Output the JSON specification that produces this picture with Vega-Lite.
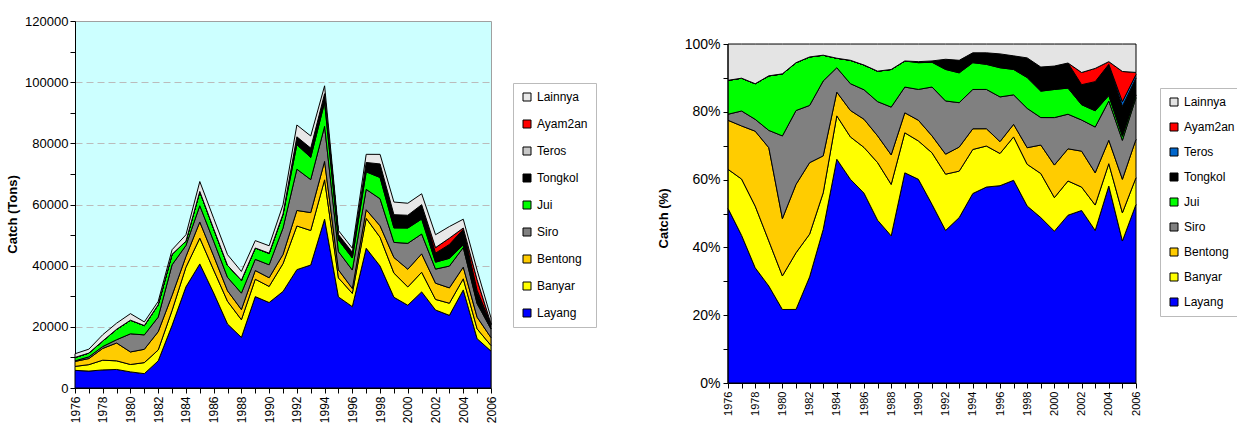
{
"$schema": "https://vega.github.io/schema/vega-lite/v6.json",
"padding": {"left": 6, "top": 14, "right": 0, "bottom": 0},
"background": "white",
"config": {"font": "Liberation Sans", "axis": {"domainColor": "black", "tickColor": "black", "labelColor": "black", "titleColor": "black", "grid": false}},
"datasets": {"catch": [
{"year":1976,"species":"Layang","tons":5770},{"year":1976,"species":"Banyar","tons":1290},{"year":1976,"species":"Bentong","tons":1620},{"year":1976,"species":"Siro","tons":200},{"year":1976,"species":"Jui","tons":1120},{"year":1976,"species":"Tongkol","tons":0},{"year":1976,"species":"Teros","tons":0},{"year":1976,"species":"Ayam2an","tons":0},{"year":1976,"species":"Lainnya","tons":1200},
{"year":1977,"species":"Layang","tons":5530},{"year":1977,"species":"Banyar","tons":2110},{"year":1977,"species":"Bentong","tons":1990},{"year":1977,"species":"Siro","tons":560},{"year":1977,"species":"Jui","tons":1230},{"year":1977,"species":"Tongkol","tons":0},{"year":1977,"species":"Teros","tons":0},{"year":1977,"species":"Ayam2an","tons":0},{"year":1977,"species":"Lainnya","tons":1280},
{"year":1978,"species":"Layang","tons":5920},{"year":1978,"species":"Banyar","tons":3170},{"year":1978,"species":"Bentong","tons":3850},{"year":1978,"species":"Siro","tons":610},{"year":1978,"species":"Jui","tons":1830},{"year":1978,"species":"Tongkol","tons":0},{"year":1978,"species":"Teros","tons":0},{"year":1978,"species":"Ayam2an","tons":0},{"year":1978,"species":"Lainnya","tons":2040},
{"year":1979,"species":"Layang","tons":6060},{"year":1979,"species":"Banyar","tons":2820},{"year":1979,"species":"Bentong","tons":5830},{"year":1979,"species":"Siro","tons":1080},{"year":1979,"species":"Jui","tons":3410},{"year":1979,"species":"Tongkol","tons":0},{"year":1979,"species":"Teros","tons":0},{"year":1979,"species":"Ayam2an","tons":0},{"year":1979,"species":"Lainnya","tons":1990},
{"year":1980,"species":"Layang","tons":5270},{"year":1980,"species":"Banyar","tons":2410},{"year":1980,"species":"Bentong","tons":4110},{"year":1980,"species":"Siro","tons":5930},{"year":1980,"species":"Jui","tons":4450},{"year":1980,"species":"Tongkol","tons":0},{"year":1980,"species":"Teros","tons":0},{"year":1980,"species":"Ayam2an","tons":0},{"year":1980,"species":"Lainnya","tons":2140},
{"year":1981,"species":"Layang","tons":4690},{"year":1981,"species":"Banyar","tons":3610},{"year":1981,"species":"Bentong","tons":4360},{"year":1981,"species":"Siro","tons":4710},{"year":1981,"species":"Jui","tons":3050},{"year":1981,"species":"Tongkol","tons":0},{"year":1981,"species":"Teros","tons":0},{"year":1981,"species":"Ayam2an","tons":0},{"year":1981,"species":"Lainnya","tons":1190},
{"year":1982,"species":"Layang","tons":8860},{"year":1982,"species":"Banyar","tons":3570},{"year":1982,"species":"Bentong","tons":5970},{"year":1982,"species":"Siro","tons":4780},{"year":1982,"species":"Jui","tons":4050},{"year":1982,"species":"Tongkol","tons":0},{"year":1982,"species":"Teros","tons":0},{"year":1982,"species":"Ayam2an","tons":0},{"year":1982,"species":"Lainnya","tons":1080},
{"year":1983,"species":"Layang","tons":20480},{"year":1983,"species":"Banyar","tons":4880},{"year":1983,"species":"Bentong","tons":4930},{"year":1983,"species":"Siro","tons":9990},{"year":1983,"species":"Jui","tons":3440},{"year":1983,"species":"Tongkol","tons":0},{"year":1983,"species":"Teros","tons":0},{"year":1983,"species":"Ayam2an","tons":0},{"year":1983,"species":"Lainnya","tons":1490},
{"year":1984,"species":"Layang","tons":33070},{"year":1984,"species":"Banyar","tons":6410},{"year":1984,"species":"Bentong","tons":3510},{"year":1984,"species":"Siro","tons":3610},{"year":1984,"species":"Jui","tons":1400},{"year":1984,"species":"Tongkol","tons":0},{"year":1984,"species":"Teros","tons":0},{"year":1984,"species":"Ayam2an","tons":0},{"year":1984,"species":"Lainnya","tons":2100},
{"year":1985,"species":"Layang","tons":40570},{"year":1985,"species":"Banyar","tons":8440},{"year":1985,"species":"Bentong","tons":5270},{"year":1985,"species":"Siro","tons":5330},{"year":1985,"species":"Jui","tons":4660},{"year":1985,"species":"Tongkol","tons":0},{"year":1985,"species":"Teros","tons":0},{"year":1985,"species":"Ayam2an","tons":0},{"year":1985,"species":"Lainnya","tons":3240},
{"year":1986,"species":"Layang","tons":31080},{"year":1986,"species":"Banyar","tons":7490},{"year":1986,"species":"Bentong","tons":4610},{"year":1986,"species":"Siro","tons":4830},{"year":1986,"species":"Jui","tons":4050},{"year":1986,"species":"Tongkol","tons":0},{"year":1986,"species":"Teros","tons":0},{"year":1986,"species":"Ayam2an","tons":0},{"year":1986,"species":"Lainnya","tons":3440},
{"year":1987,"species":"Layang","tons":20930},{"year":1987,"species":"Banyar","tons":7410},{"year":1987,"species":"Bentong","tons":3440},{"year":1987,"species":"Siro","tons":4400},{"year":1987,"species":"Jui","tons":3920},{"year":1987,"species":"Tongkol","tons":0},{"year":1987,"species":"Teros","tons":0},{"year":1987,"species":"Ayam2an","tons":0},{"year":1987,"species":"Lainnya","tons":3490},
{"year":1988,"species":"Layang","tons":16540},{"year":1988,"species":"Banyar","tons":5790},{"year":1988,"species":"Bentong","tons":3320},{"year":1988,"species":"Siro","tons":5370},{"year":1988,"species":"Jui","tons":4230},{"year":1988,"species":"Tongkol","tons":0},{"year":1988,"species":"Teros","tons":0},{"year":1988,"species":"Ayam2an","tons":0},{"year":1988,"species":"Lainnya","tons":2860},
{"year":1989,"species":"Layang","tons":29880},{"year":1989,"species":"Banyar","tons":5690},{"year":1989,"species":"Bentong","tons":2840},{"year":1989,"species":"Siro","tons":3660},{"year":1989,"species":"Jui","tons":3710},{"year":1989,"species":"Tongkol","tons":0},{"year":1989,"species":"Teros","tons":0},{"year":1989,"species":"Ayam2an","tons":0},{"year":1989,"species":"Lainnya","tons":2410},
{"year":1990,"species":"Layang","tons":27950},{"year":1990,"species":"Banyar","tons":5260},{"year":1990,"species":"Bentong","tons":2840},{"year":1990,"species":"Siro","tons":4230},{"year":1990,"species":"Jui","tons":3670},{"year":1990,"species":"Tongkol","tons":140},{"year":1990,"species":"Teros","tons":0},{"year":1990,"species":"Ayam2an","tons":0},{"year":1990,"species":"Lainnya","tons":2420},
{"year":1991,"species":"Layang","tons":31570},{"year":1991,"species":"Banyar","tons":9100},{"year":1991,"species":"Bentong","tons":3000},{"year":1991,"species":"Siro","tons":8630},{"year":1991,"species":"Jui","tons":4370},{"year":1991,"species":"Tongkol","tons":240},{"year":1991,"species":"Teros","tons":0},{"year":1991,"species":"Ayam2an","tons":0},{"year":1991,"species":"Lainnya","tons":2990},
{"year":1992,"species":"Layang","tons":38700},{"year":1992,"species":"Banyar","tons":14280},{"year":1992,"species":"Bentong","tons":5070},{"year":1992,"species":"Siro","tons":13500},{"year":1992,"species":"Jui","tons":8000},{"year":1992,"species":"Tongkol","tons":2580},{"year":1992,"species":"Teros","tons":0},{"year":1992,"species":"Ayam2an","tons":0},{"year":1992,"species":"Lainnya","tons":3870},
{"year":1993,"species":"Layang","tons":40210},{"year":1993,"species":"Banyar","tons":11290},{"year":1993,"species":"Bentong","tons":5850},{"year":1993,"species":"Siro","tons":10790},{"year":1993,"species":"Jui","tons":7250},{"year":1993,"species":"Tongkol","tons":3050},{"year":1993,"species":"Teros","tons":0},{"year":1993,"species":"Ayam2an","tons":0},{"year":1993,"species":"Lainnya","tons":3960},
{"year":1994,"species":"Layang","tons":55230},{"year":1994,"species":"Banyar","tons":12840},{"year":1994,"species":"Bentong","tons":6030},{"year":1994,"species":"Siro","tons":11460},{"year":1994,"species":"Jui","tons":7810},{"year":1994,"species":"Tongkol","tons":2870},{"year":1994,"species":"Teros","tons":0},{"year":1994,"species":"Ayam2an","tons":0},{"year":1994,"species":"Lainnya","tons":2570},
{"year":1995,"species":"Layang","tons":29770},{"year":1995,"species":"Banyar","tons":6230},{"year":1995,"species":"Bentong","tons":2630},{"year":1995,"species":"Siro","tons":5970},{"year":1995,"species":"Jui","tons":3810},{"year":1995,"species":"Tongkol","tons":1750},{"year":1995,"species":"Teros","tons":0},{"year":1995,"species":"Ayam2an","tons":0},{"year":1995,"species":"Lainnya","tons":1340},
{"year":1996,"species":"Layang","tons":26600},{"year":1996,"species":"Banyar","tons":4340},{"year":1996,"species":"Bentong","tons":1600},{"year":1996,"species":"Siro","tons":6030},{"year":1996,"species":"Jui","tons":3930},{"year":1996,"species":"Tongkol","tons":1870},{"year":1996,"species":"Teros","tons":0},{"year":1996,"species":"Ayam2an","tons":0},{"year":1996,"species":"Lainnya","tons":1330},
{"year":1997,"species":"Layang","tons":45690},{"year":1997,"species":"Banyar","tons":9780},{"year":1997,"species":"Bentong","tons":2830},{"year":1997,"species":"Siro","tons":6650},{"year":1997,"species":"Jui","tons":5730},{"year":1997,"species":"Tongkol","tons":3060},{"year":1997,"species":"Teros","tons":0},{"year":1997,"species":"Ayam2an","tons":0},{"year":1997,"species":"Lainnya","tons":2670},
{"year":1998,"species":"Layang","tons":39880},{"year":1998,"species":"Banyar","tons":9400},{"year":1998,"species":"Bentong","tons":3740},{"year":1998,"species":"Siro","tons":8860},{"year":1998,"species":"Jui","tons":6950},{"year":1998,"species":"Tongkol","tons":4430},{"year":1998,"species":"Teros","tons":0},{"year":1998,"species":"Ayam2an","tons":0},{"year":1998,"species":"Lainnya","tons":3130},
{"year":1999,"species":"Layang","tons":29670},{"year":1999,"species":"Banyar","tons":7900},{"year":1999,"species":"Bentong","tons":5110},{"year":1999,"species":"Siro","tons":4930},{"year":1999,"species":"Jui","tons":4740},{"year":1999,"species":"Tongkol","tons":4320},{"year":1999,"species":"Teros","tons":0},{"year":1999,"species":"Ayam2an","tons":0},{"year":1999,"species":"Lainnya","tons":4130},
{"year":2000,"species":"Layang","tons":27060},{"year":2000,"species":"Banyar","tons":5980},{"year":2000,"species":"Bentong","tons":5800},{"year":2000,"species":"Siro","tons":8460},{"year":2000,"species":"Jui","tons":5010},{"year":2000,"species":"Tongkol","tons":4170},{"year":2000,"species":"Teros","tons":0},{"year":2000,"species":"Ayam2an","tons":0},{"year":2000,"species":"Lainnya","tons":3930},
{"year":2001,"species":"Layang","tons":31430},{"year":2001,"species":"Banyar","tons":6410},{"year":2001,"species":"Bentong","tons":6030},{"year":2001,"species":"Siro","tons":6480},{"year":2001,"species":"Jui","tons":4890},{"year":2001,"species":"Tongkol","tons":4700},{"year":2001,"species":"Teros","tons":0},{"year":2001,"species":"Ayam2an","tons":0},{"year":2001,"species":"Lainnya","tons":3560},
{"year":2002,"species":"Layang","tons":25500},{"year":2002,"species":"Banyar","tons":3460},{"year":2002,"species":"Bentong","tons":5310},{"year":2002,"species":"Siro","tons":4610},{"year":2002,"species":"Jui","tons":2260},{"year":2002,"species":"Tongkol","tons":2960},{"year":2002,"species":"Teros","tons":0},{"year":2002,"species":"Ayam2an","tons":1800},{"year":2002,"species":"Lainnya","tons":4210},
{"year":2003,"species":"Layang","tons":23760},{"year":2003,"species":"Banyar","tons":3960},{"year":2003,"species":"Bentong","tons":5020},{"year":2003,"species":"Siro","tons":7130},{"year":2003,"species":"Jui","tons":2530},{"year":2003,"species":"Tongkol","tons":4540},{"year":2003,"species":"Teros","tons":0},{"year":2003,"species":"Ayam2an","tons":2060},{"year":2003,"species":"Lainnya","tons":3800},
{"year":2004,"species":"Layang","tons":32070},{"year":2004,"species":"Banyar","tons":3640},{"year":2004,"species":"Bentong","tons":3810},{"year":2004,"species":"Siro","tons":6400},{"year":2004,"species":"Jui","tons":880},{"year":2004,"species":"Tongkol","tons":5080},{"year":2004,"species":"Teros","tons":0},{"year":2004,"species":"Ayam2an","tons":440},{"year":2004,"species":"Lainnya","tons":2870},
{"year":2005,"species":"Layang","tons":16130},{"year":2005,"species":"Banyar","tons":3200},{"year":2005,"species":"Bentong","tons":3810},{"year":2005,"species":"Siro","tons":4430},{"year":2005,"species":"Jui","tons":460},{"year":2005,"species":"Tongkol","tons":3390},{"year":2005,"species":"Teros","tons":540},{"year":2005,"species":"Ayam2an","tons":3430},{"year":2005,"species":"Lainnya","tons":3120},
{"year":2006,"species":"Layang","tons":12070},{"year":2006,"species":"Banyar","tons":1810},{"year":2006,"species":"Bentong","tons":2590},{"year":2006,"species":"Siro","tons":2820},{"year":2006,"species":"Jui","tons":180},{"year":2006,"species":"Tongkol","tons":1150},{"year":2006,"species":"Teros","tons":230},{"year":2006,"species":"Ayam2an","tons":140},{"year":2006,"species":"Lainnya","tons":1920}
],
"speciesOrder": [{"species":"Layang","rank":1},{"species":"Banyar","rank":2},{"species":"Bentong","rank":3},{"species":"Siro","rank":4},{"species":"Jui","rank":5},{"species":"Tongkol","rank":6},{"species":"Teros","rank":7},{"species":"Ayam2an","rank":8},{"species":"Lainnya","rank":9}]
},
"data": {"name": "catch"},
"transform": [{"lookup": "species", "from": {"data": {"name": "speciesOrder"}, "key": "species", "fields": ["rank"]}}],
"spacing": 60,
"resolve": {"scale": {"color": "independent"}, "legend": {"color": "independent"}},
"hconcat": [
{
"width": 416, "height": 367,
"view": {"fill": "#CCFFFF", "stroke": "#A0A0A0"},
"mark": {"type": "area", "stroke": "black", "strokeWidth": 1, "interpolate": "linear", "opacity": 1},
"encoding": {
"x": {"field": "year", "type": "quantitative", "scale": {"domain": [1976, 2006], "nice": false, "zero": false},
"axis": {"title": null, "values": [1976,1977,1978,1979,1980,1981,1982,1983,1984,1985,1986,1987,1988,1989,1990,1991,1992,1993,1994,1995,1996,1997,1998,1999,2000,2001,2002,2003,2004,2005,2006], "format": "d", "labelExpr": "datum.value % 2 == 0 ? datum.label : ''", "labelAngle": -90, "labelFontSize": 12, "tickSize": 5, "labelPadding": 3, "labelOverlap": false, "labelBound": false, "labelFlush": false}},
"y": {"field": "tons", "type": "quantitative", "stack": "zero", "scale": {"domain": [0, 120000], "nice": false},
"axis": {"title": "Catch (Tons)", "titleFontSize": 13, "titleFontWeight": "bold", "titlePadding": 5, "titleY": 193, "values": [0,10000,20000,30000,40000,50000,60000,70000,80000,90000,100000,110000,120000], "format": "d", "labelExpr": "datum.value % 20000 == 0 ? datum.label : ''", "labelFontSize": 13, "tickSize": 5, "labelPadding": 2, "labelOverlap": false, "labelFlush": false, "grid": true, "gridColor": "#BBBBBB", "gridDash": [7, 4], "gridOpacity": {"condition": {"test": "datum.value % 20000 == 0 && datum.value > 0 && datum.value < 120000", "value": 1}, "value": 0}}},
"order": {"field": "rank", "type": "quantitative", "sort": "ascending"},
"color": {"field": "species", "type": "nominal", "sort": ["Lainnya","Ayam2an","Teros","Tongkol","Jui","Siro","Bentong","Banyar","Layang"],
"scale": {"domain": ["Lainnya","Ayam2an","Teros","Tongkol","Jui","Siro","Bentong","Banyar","Layang"], "range": ["#E8E8E8","#FF0000","#C8C8C8","#000000","#00FF00","#808080","#FFCC00","#FFFF00","#0000FF"]},
"legend": {"orient": "none", "legendX": 438, "legendY": 62, "title": null, "symbolType": "square", "symbolSize": 64, "symbolStrokeColor": "black", "symbolStrokeWidth": 1, "symbolOpacity": 1, "labelFontSize": 12, "labelOffset": 4, "rowPadding": 15, "padding": 8, "strokeColor": "#BBBBBB", "fillColor": "white", "labelColor": "black"}}
}
},
{
"width": 408, "height": 362,
"view": {"stroke": null},
"layer": [
{
"mark": {"type": "area", "stroke": "black", "strokeWidth": 1, "interpolate": "linear", "opacity": 1},
"encoding": {
"x": {"field": "year", "type": "quantitative", "scale": {"domain": [1976, 2006], "nice": false, "zero": false},
"axis": {"title": null, "values": [1976,1977,1978,1979,1980,1981,1982,1983,1984,1985,1986,1987,1988,1989,1990,1991,1992,1993,1994,1995,1996,1997,1998,1999,2000,2001,2002,2003,2004,2005,2006], "format": "d", "labelExpr": "datum.value % 2 == 0 ? datum.label : ''", "labelAngle": -90, "labelFontSize": 11, "tickSize": 5, "labelPadding": 3, "labelOverlap": false, "labelBound": false, "labelFlush": false}},
"y": {"field": "tons", "type": "quantitative", "stack": "normalize", "scale": {"domain": [0, 1.0679], "nice": false},
"axis": {"title": "Catch (%)", "titleFontSize": 13, "titleFontWeight": "bold", "titlePadding": 14, "titleY": 197, "domain": false, "values": [0,0.1,0.2,0.3,0.4,0.5,0.6,0.7,0.8,0.9,1], "format": ".0%", "labelExpr": "round(datum.value * 10) % 2 == 0 ? datum.label : ''", "labelFontSize": 14, "tickSize": 5, "labelPadding": 3, "labelOverlap": false, "labelFlush": false}},
"order": {"field": "rank", "type": "quantitative", "sort": "ascending"},
"color": {"field": "species", "type": "nominal", "sort": ["Lainnya","Ayam2an","Teros","Tongkol","Jui","Siro","Bentong","Banyar","Layang"],
"scale": {"domain": ["Lainnya","Ayam2an","Teros","Tongkol","Jui","Siro","Bentong","Banyar","Layang"], "range": ["#E4E4E4","#FF0000","#0066CC","#000000","#00FF00","#808080","#FFCC00","#FFFF00","#0000FF"]},
"legend": {"orient": "none", "legendX": 432, "legendY": 67, "title": null, "symbolType": "square", "symbolSize": 64, "symbolStrokeColor": "black", "symbolStrokeWidth": 1, "symbolOpacity": 1, "labelFontSize": 12, "labelOffset": 4, "rowPadding": 13, "padding": 8, "strokeColor": "#BBBBBB", "fillColor": "white", "labelColor": "black"}}
}
},
{
"data": {"values": [{"year": 1976, "from": 0, "to": 1}]},
"mark": {"type": "rule", "color": "black", "strokeWidth": 1},
"encoding": {
"x": {"field": "year", "type": "quantitative",
"axis": {"title": null, "values": [1976,1977,1978,1979,1980,1981,1982,1983,1984,1985,1986,1987,1988,1989,1990,1991,1992,1993,1994,1995,1996,1997,1998,1999,2000,2001,2002,2003,2004,2005,2006], "format": "d", "labelExpr": "datum.value % 2 == 0 ? datum.label : ''", "labelAngle": -90, "labelFontSize": 11, "tickSize": 5, "labelPadding": 3, "labelOverlap": false, "labelBound": false, "labelFlush": false}},
"y": {"field": "from", "type": "quantitative",
"axis": {"title": "Catch (%)", "titleFontSize": 13, "titleFontWeight": "bold", "titlePadding": 14, "titleY": 197, "domain": false, "values": [0,0.1,0.2,0.3,0.4,0.5,0.6,0.7,0.8,0.9,1], "format": ".0%", "labelExpr": "round(datum.value * 10) % 2 == 0 ? datum.label : ''", "labelFontSize": 14, "tickSize": 5, "labelPadding": 3, "labelOverlap": false, "labelFlush": false}},
"y2": {"field": "to"}
}
}
]
}
]
}
